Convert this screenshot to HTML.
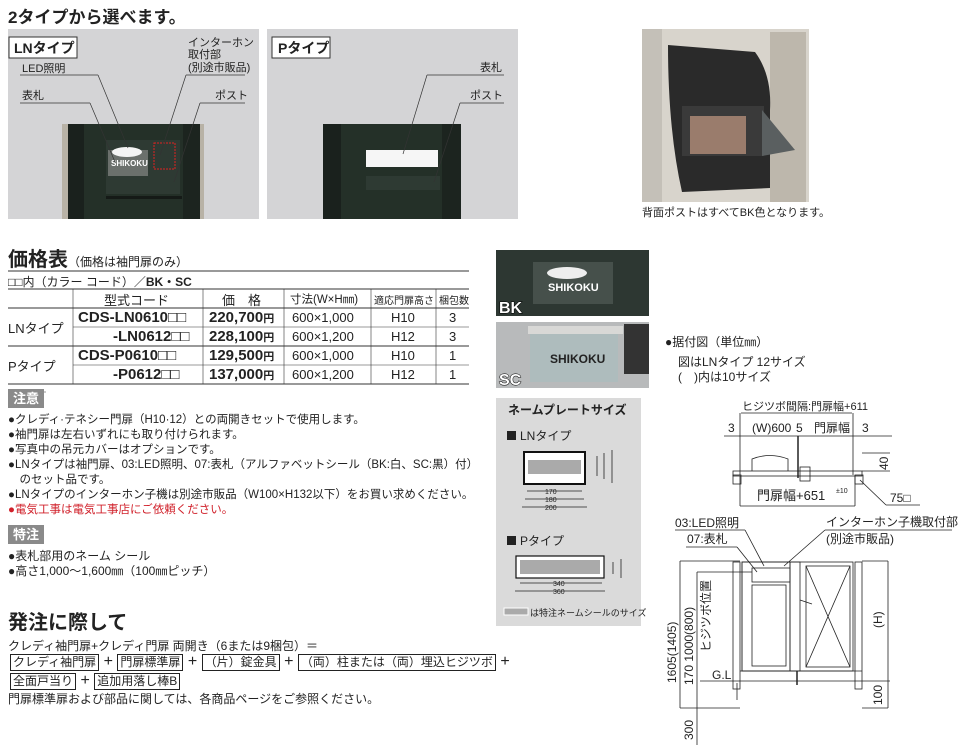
<!DOCTYPE html>
<html><head><meta charset="utf-8">
<style>
body{margin:0;width:962px;height:747px;background:#fff;position:relative;overflow:hidden;font-family:"Liberation Sans","Noto Sans CJK JP",sans-serif;color:#222}
.a{position:absolute;white-space:nowrap}
.t12{font-size:12px}
.t13{font-size:13px}
.tag{position:absolute;background:#8a8a8a;color:#fff;font-size:13px;font-weight:bold;padding:0 5px;height:19px;line-height:19px}
.bx{border:1px solid #222;padding:0 2px;font-size:12px;line-height:15px;display:inline-block}
.b15{font-size:15px;font-weight:bold}
</style></head><body>
<div class="a" style="left:8px;top:3px;font-size:17px;font-weight:bold">2タイプから選べます。</div>

<svg class="a" style="left:0;top:0" width="962" height="747">
<!-- LN panel -->
<rect x="8" y="29" width="251" height="190" fill="#d4d4d6"/>
<rect x="62" y="124" width="140" height="95" fill="#243028"/>
<rect x="62" y="124" width="6" height="95" fill="#b8b2a6"/>
<rect x="68" y="124" width="16" height="95" fill="#1a211d"/>
<rect x="183" y="124" width="19" height="95" fill="#1c241f"/>
<rect x="200" y="124" width="4" height="95" fill="#b8b2a6"/>
<rect x="106" y="140" width="74" height="54" fill="#2e3a33"/>
<rect x="108" y="150" width="40" height="26" fill="#6b706c"/>
<ellipse cx="127" cy="152" rx="15" ry="5" fill="#f4f4f4"/>
<text x="111" y="166" font-size="8" fill="#fff" font-weight="bold" font-family="Liberation Sans">SHIKOKU</text>
<rect x="154" y="143" width="21" height="26" fill="none" stroke="#d22" stroke-dasharray="2,1"/>
<rect x="106" y="196" width="76" height="3" fill="#151a17"/>
<rect x="9" y="37" width="68" height="21" fill="#fff" stroke="#333"/>
<text x="14" y="53" font-size="14" font-weight="bold" fill="#222">LNタイプ</text>
<g stroke="#333" stroke-width="0.7" fill="none">
<line x1="20" y1="75" x2="98" y2="75"/><line x1="98" y1="75" x2="128" y2="148"/>
<line x1="20" y1="103" x2="90" y2="103"/><line x1="90" y1="103" x2="115" y2="162"/>
<line x1="186" y1="75" x2="245" y2="75"/><line x1="186" y1="75" x2="160" y2="155"/>
<line x1="200" y1="103" x2="245" y2="103"/><line x1="200" y1="103" x2="174" y2="182"/>
</g>
<text x="22" y="72" font-size="11" fill="#222">LED照明</text>
<text x="22" y="99" font-size="11" fill="#222">表札</text>
<text x="188" y="46" font-size="11" fill="#222">インターホン</text>
<text x="188" y="58" font-size="11" fill="#222">取付部</text>
<text x="188" y="71" font-size="11" fill="#222">(別途市販品)</text>
<text x="215" y="99" font-size="11" fill="#222">ポスト</text>
<!-- P panel -->
<rect x="267" y="29" width="251" height="190" fill="#d4d4d6"/>
<rect x="323" y="124" width="138" height="95" fill="#243028"/>
<rect x="323" y="124" width="18" height="95" fill="#1a211d"/>
<rect x="442" y="124" width="19" height="95" fill="#1c241f"/>
<rect x="366" y="150" width="72" height="17" fill="#f6f6f6"/>
<rect x="366" y="176" width="74" height="14" fill="#2e3a33"/>
<rect x="272" y="37" width="58" height="21" fill="#fff" stroke="#333"/>
<text x="278" y="53" font-size="14" font-weight="bold" fill="#222">Pタイプ</text>
<g stroke="#333" stroke-width="0.7" fill="none">
<line x1="427" y1="75" x2="504" y2="75"/><line x1="427" y1="75" x2="403" y2="154"/>
<line x1="460" y1="103" x2="504" y2="103"/><line x1="460" y1="103" x2="434" y2="182"/>
</g>
<text x="480" y="71" font-size="11" fill="#222">表札</text>
<text x="470" y="99" font-size="11" fill="#222">ポスト</text>
<!-- photo right -->
<rect x="642" y="29" width="167" height="173" fill="#d8d4cc"/>
<rect x="642" y="29" width="20" height="173" fill="#c4c0b8"/>
<rect x="770" y="32" width="36" height="170" fill="#bdb7ac"/>
<path d="M668 45 L755 52 Q772 75 770 110 L770 188 L682 192 Q668 130 668 45Z" fill="#2a2a2a"/>
<rect x="682" y="106" width="82" height="50" fill="#3a3a3a"/>
<rect x="690" y="116" width="56" height="38" fill="#9a7c6c"/>
<polygon points="762,110 795,150 762,156" fill="#5a5f60"/>
<text x="642" y="216" font-size="11" fill="#222">背面ポストはすべてBK色となります。</text>
<!-- BK / SC photos -->
<rect x="496" y="250" width="153" height="66" fill="#2d3732"/>
<rect x="533" y="262" width="80" height="42" fill="#46504b"/>
<ellipse cx="567" cy="273" rx="20" ry="6" fill="#eee"/>
<text x="548" y="291" font-size="11" font-weight="bold" fill="#fff">SHIKOKU</text>
<text x="499" y="313" font-size="16" font-weight="bold" fill="#fff" stroke="#000" stroke-width="1" paint-order="stroke">BK</text>
<rect x="496" y="322" width="153" height="66" fill="#b8babb"/>
<rect x="530" y="332" width="88" height="50" fill="#aebcbd"/>
<rect x="528" y="326" width="95" height="8" fill="#d8d8d6"/>
<rect x="624" y="324" width="25" height="50" fill="#333"/>
<text x="550" y="363" font-size="12" font-weight="bold" fill="#222">SHIKOKU</text>
<text x="499" y="385" font-size="16" font-weight="bold" fill="#fff" stroke="#000" stroke-width="1" paint-order="stroke">SC</text>
<!-- nameplate panel -->
<rect x="496" y="398" width="145" height="228" fill="#dadada"/>
<text x="508" y="414" font-size="12" font-weight="bold" fill="#222">ネームプレートサイズ</text>
<rect x="507" y="431" width="9" height="9" fill="#222"/>
<text x="520" y="440" font-size="12" fill="#222">LNタイプ</text>
<rect x="524" y="452" width="61" height="32" fill="#fff" stroke="#111" stroke-width="2"/>
<rect x="528" y="460" width="53" height="14" fill="#aaa"/>
<g stroke="#222" stroke-width="0.8" fill="none">
<line x1="527" y1="491" x2="582" y2="491"/><line x1="525" y1="499" x2="584" y2="499"/><line x1="522" y1="507" x2="587" y2="507"/>
<line x1="597" y1="456" x2="597" y2="476"/><line x1="604" y1="453" x2="604" y2="479"/><line x1="612" y1="450" x2="612" y2="483"/>
<line x1="520" y1="583" x2="602" y2="583"/><line x1="515" y1="591" x2="605" y2="591"/>
<line x1="613" y1="562" x2="613" y2="574"/><line x1="621" y1="559" x2="621" y2="578"/>
</g>
<text x="545" y="494" font-size="7" fill="#222">170</text>
<text x="545" y="502" font-size="7" fill="#222">180</text>
<text x="545" y="510" font-size="7" fill="#222">200</text>
<text x="553" y="586" font-size="7" fill="#222">340</text>
<text x="553" y="594" font-size="7" fill="#222">360</text>
<rect x="507" y="536" width="9" height="9" fill="#222"/>
<text x="520" y="545" font-size="12" fill="#222">Pタイプ</text>
<rect x="516" y="556" width="88" height="22" fill="#fff" stroke="#111" stroke-width="1.2"/>
<rect x="520" y="560" width="80" height="14" fill="#aaa"/>
<rect x="504" y="608" width="24" height="7" fill="#aaa" stroke="#fff"/>
<text x="530" y="616" font-size="9" fill="#222">は特注ネームシールのサイズ</text>
<!-- drawing -->
<g stroke="#222" stroke-width="0.8" fill="none">
<line x1="740" y1="413" x2="740" y2="475"/><line x1="853" y1="413" x2="853" y2="475"/>
<line x1="741" y1="413" x2="852" y2="413"/>
<line x1="724" y1="436" x2="892" y2="436"/>
<line x1="798" y1="436" x2="798" y2="478" stroke-width="1.5"/>
<rect x="733" y="471" width="129" height="5"/>
<rect x="733" y="475" width="8" height="9"/>
<rect x="855" y="475" width="8" height="9"/>
<line x1="740" y1="476" x2="740" y2="506"/><line x1="855" y1="476" x2="855" y2="506"/>
<line x1="740" y1="506" x2="855" y2="506"/>
<path d="M752 471 L752 459 Q770 452 788 459 L788 471"/>
<line x1="862" y1="471" x2="890" y2="471"/><line x1="862" y1="453" x2="890" y2="453"/>
<line x1="860" y1="480" x2="886" y2="505"/><line x1="886" y1="505" x2="920" y2="505"/>
<rect x="800" y="467" width="10" height="14"/>
<line x1="675" y1="530" x2="745" y2="530"/><line x1="745" y1="530" x2="764" y2="566"/>
<line x1="686" y1="547" x2="737" y2="547"/><line x1="737" y1="547" x2="757" y2="572"/>
<line x1="825" y1="530" x2="952" y2="530"/><line x1="825" y1="530" x2="784" y2="566"/>
<rect x="733" y="562" width="7" height="127"/>
<rect x="855" y="562" width="7" height="127"/>
<rect x="742" y="562" width="111" height="109"/>
<rect x="742" y="562" width="48" height="109"/>
<rect x="752" y="568" width="38" height="14"/>
<rect x="752" y="585" width="34" height="81"/>
<rect x="790" y="562" width="10" height="109"/>
<rect x="806" y="566" width="44" height="101"/>
<line x1="806" y1="566" x2="850" y2="667"/><line x1="850" y1="566" x2="806" y2="667"/>
<line x1="800" y1="600" x2="812" y2="604"/>
<line x1="700" y1="681" x2="890" y2="681"/>
<line x1="740" y1="671" x2="862" y2="671"/>
<line x1="680" y1="561" x2="740" y2="561"/>
<line x1="680" y1="561" x2="680" y2="708"/><line x1="680" y1="708" x2="740" y2="708"/>
<line x1="697" y1="572" x2="752" y2="572"/><line x1="697" y1="572" x2="697" y2="745"/>
<line x1="737" y1="683" x2="737" y2="700"/>
<line x1="862" y1="561" x2="888" y2="561"/><line x1="888" y1="561" x2="888" y2="708"/><line x1="862" y1="708" x2="888" y2="708"/>
<line x1="797" y1="671" x2="797" y2="685" stroke-width="1.5"/>
</g>
<text x="742" y="410" font-size="11" fill="#222">ヒジツボ間隔:門扉幅+611</text>
<text x="728" y="432" font-size="12" fill="#222">3</text>
<text x="752" y="432" font-size="12" fill="#222">(W)600</text>
<text x="796" y="432" font-size="12" fill="#222">5</text>
<text x="814" y="432" font-size="12" fill="#222">門扉幅</text>
<text x="862" y="432" font-size="12" fill="#222">3</text>
<text x="757" y="500" font-size="13" fill="#222">門扉幅+651</text>
<text x="836" y="493" font-size="7" fill="#222">±10</text>
<text x="890" y="502" font-size="12" fill="#222">75□</text>
<text transform="translate(888,470) rotate(-90)" font-size="12" fill="#222">40</text>
<text x="675" y="527" font-size="12" fill="#222">03:LED照明</text>
<text x="687" y="543" font-size="12" fill="#222">07:表札</text>
<text x="826" y="526" font-size="12" fill="#222">インターホン子機取付部</text>
<text x="826" y="543" font-size="12" fill="#222">(別途市販品)</text>
<text transform="translate(676,683) rotate(-90)" font-size="12" fill="#222">1605(1405)</text>
<text transform="translate(693,685) rotate(-90)" font-size="12" fill="#222">170  1000(800)</text>
<text transform="translate(710,652) rotate(-90)" font-size="12" fill="#222">ヒジツボ位置</text>
<text transform="translate(693,740) rotate(-90)" font-size="12" fill="#222">300</text>
<text transform="translate(882,628) rotate(-90)" font-size="12" fill="#222">(H)</text>
<text transform="translate(882,705) rotate(-90)" font-size="12" fill="#222">100</text>
<text x="712" y="679" font-size="12" fill="#222">G.L</text>
<!-- table lines -->
<g stroke="#333" stroke-width="1">
<line x1="8" y1="271" x2="469" y2="271"/>
<line x1="8" y1="289" x2="469" y2="289"/>
<line x1="8" y1="308" x2="469" y2="308"/>
<line x1="73" y1="327" x2="469" y2="327" stroke-width="0.6"/>
<line x1="8" y1="346" x2="469" y2="346"/>
<line x1="73" y1="365" x2="469" y2="365" stroke-width="0.6"/>
<line x1="8" y1="384" x2="469" y2="384"/>
<line x1="8" y1="392" x2="46" y2="392" stroke-width="0.6"/>
<line x1="73" y1="289" x2="73" y2="384" stroke-width="0.6"/>
<line x1="203" y1="289" x2="203" y2="384" stroke-width="0.6"/>
<line x1="284" y1="289" x2="284" y2="384" stroke-width="0.6"/>
<line x1="371" y1="289" x2="371" y2="384" stroke-width="0.6"/>
<line x1="436" y1="289" x2="436" y2="384" stroke-width="0.6"/>
</g>
</svg>

<div class="a" style="left:8px;top:243px;font-size:20px;font-weight:bold">価格表<span style="font-size:12px;font-weight:normal">（価格は袖門扉のみ）</span></div>
<div class="a t12" style="left:8px;top:273px">□□内（カラー コード）／<b>BK・SC</b></div>
<div class="a t13" style="left:104px;top:290px">型式コード</div>
<div class="a t13" style="left:222px;top:290px">価　格</div>
<div class="a" style="left:290px;top:291px;font-size:11.5px">寸法(W×H㎜)</div>
<div class="a" style="left:374px;top:292px;font-size:10px">適応門扉高さ</div>
<div class="a" style="left:439px;top:292px;font-size:10px">梱包数</div>
<div class="a t13" style="left:8px;top:318px">LNタイプ</div>
<div class="a t13" style="left:8px;top:356px">Pタイプ</div>
<div class="a b15" style="left:78px;top:309px">CDS-LN0610□□</div>
<div class="a b15" style="left:113px;top:328px">-LN0612□□</div>
<div class="a b15" style="left:78px;top:347px">CDS-P0610□□</div>
<div class="a b15" style="left:113px;top:366px">-P0612□□</div>
<div class="a b15" style="left:209px;top:309px">220,700<span style="font-size:11px">円</span></div>
<div class="a b15" style="left:209px;top:328px">228,100<span style="font-size:11px">円</span></div>
<div class="a b15" style="left:209px;top:347px">129,500<span style="font-size:11px">円</span></div>
<div class="a b15" style="left:209px;top:366px">137,000<span style="font-size:11px">円</span></div>
<div class="a t13" style="left:292px;top:310px">600×1,000</div>
<div class="a t13" style="left:292px;top:329px">600×1,200</div>
<div class="a t13" style="left:292px;top:348px">600×1,000</div>
<div class="a t13" style="left:292px;top:367px">600×1,200</div>
<div class="a t13" style="left:391px;top:310px">H10</div>
<div class="a t13" style="left:391px;top:329px">H12</div>
<div class="a t13" style="left:391px;top:348px">H10</div>
<div class="a t13" style="left:391px;top:367px">H12</div>
<div class="a t13" style="left:449px;top:310px">3</div>
<div class="a t13" style="left:449px;top:329px">3</div>
<div class="a t13" style="left:449px;top:348px">1</div>
<div class="a t13" style="left:449px;top:367px">1</div>

<div class="tag" style="left:8px;top:389px">注意</div>
<div class="a" style="left:8px;top:413px;line-height:15px;font-size:11.5px">●クレディ·テネシー門扉（H10·12）との両開きセットで使用します。<br>●袖門扉は左右いずれにも取り付けられます。<br>●写真中の吊元カバーはオプションです。<br>●LNタイプは袖門扉、03:LED照明、07:表札（アルファベットシール（BK:白、SC:黒）付）<br>　のセット品です。<br>●LNタイプのインターホン子機は別途市販品（W100×H132以下）をお買い求めください。<br><span style="color:#d0202a">●電気工事は電気工事店にご依頼ください。</span></div>
<div class="tag" style="left:8px;top:525px">特注</div>
<div class="a" style="left:8px;top:549px;line-height:15px;font-size:12px">●表札部用のネーム シール<br>●高さ1,000～1,600㎜（100㎜ピッチ）</div>

<div class="a" style="left:8px;top:606px;font-size:20px;font-weight:bold">発注に際して</div>
<div class="a t12" style="left:8px;top:637px">クレディ袖門扉+クレディ門扉 両開き（6または9梱包）＝</div>
<div class="a" style="left:10px;top:653px"><span class="bx">クレディ袖門扉</span> + <span class="bx">門扉標準扉</span> + <span class="bx">（片）錠金具</span> + <span class="bx">（両）柱または（両）埋込ヒジツボ</span> +</div>
<div class="a" style="left:10px;top:672px"><span class="bx">全面戸当り</span> + <span class="bx">追加用落し棒B</span></div>
<div class="a t12" style="left:8px;top:690px">門扉標準扉および部品に関しては、各商品ページをご参照ください。</div>

<div class="a t12" style="left:665px;top:333px">●据付図（単位㎜）</div>
<div class="a t12" style="left:678px;top:355px;line-height:15px">図はLNタイプ 12サイズ<br>(　)内は10サイズ</div>
</body></html>
